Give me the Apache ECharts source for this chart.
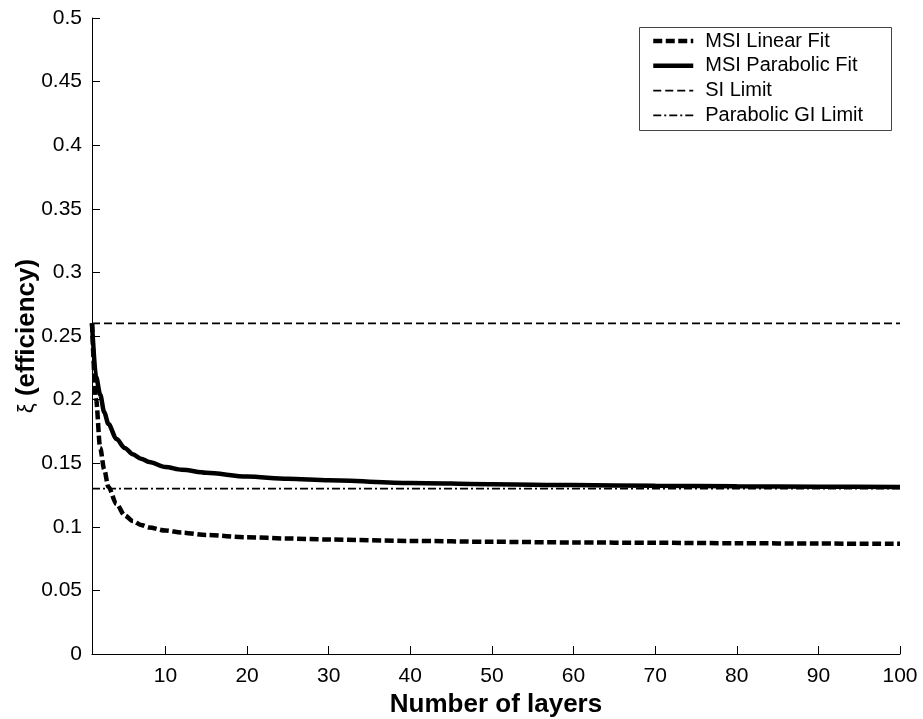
<!DOCTYPE html>
<html>
<head>
<meta charset="utf-8">
<script src="https://cdn.jsdelivr.net/npm/echarts@6/dist/echarts.min.js"></script>
<style>
html,body{margin:0;padding:0;background:#fff;}
#chart{width:923px;height:719px;}
</style>
</head>
<body>
<div id="chart"></div>
<script>
// ---- data ----
var layers = [1, 1.5, 2, 2.5, 3, 4, 5, 6, 7, 8, 10, 12, 15, 20, 25, 30, 40, 50, 60, 70, 80, 90, 100];
var msiLinear = [0.26, 0.200, 0.162, 0.145, 0.1315, 0.118, 0.109, 0.1045, 0.1015, 0.0995, 0.097, 0.0955, 0.0935, 0.0918, 0.0908, 0.090, 0.0889, 0.0882, 0.0877, 0.0874, 0.0871, 0.0868, 0.0866];
var msiParabolic = [0.26, 0.218, 0.204, 0.190, 0.181, 0.169, 0.162, 0.157, 0.1535, 0.151, 0.147, 0.1448, 0.1425, 0.1395, 0.1377, 0.1365, 0.1345, 0.1335, 0.1328, 0.1322, 0.1318, 0.1315, 0.1312];
var siLimit = 0.26;
var giLimit = 0.13;
var xTicks = [10, 20, 30, 40, 50, 60, 70, 80, 90, 100];
var seriesNames = ['MSI Linear Fit', 'MSI Parabolic Fit', 'SI Limit', 'Parabolic GI Limit'];

function pairs(xs, ys) { return xs.map(function (x, i) { return [x, ys[i]]; }); }
var xMin = layers[0], xMax = layers[layers.length - 1];

var FONT = '"Liberation Sans", Arial, Helvetica, sans-serif';
var styles = [
  {color: '#000', width: 4.5, type: [9, 3.5]},
  {color: '#000', width: 4.5, type: 'solid'},
  {color: '#000', width: 1.8, type: [8, 4]},
  {color: '#000', width: 1.8, type: [8, 3, 2, 3]}
];
var chart = echarts.init(document.getElementById('chart'), null, {renderer: 'canvas'});
chart.setOption({
  animation: false,
  backgroundColor: '#fff',
  textStyle: {fontFamily: FONT, color: '#000'},
  grid: {left: 92, right: 23, top: 18, bottom: 65, containLabel: false, outerBoundsMode: 'none'},
  graphic: [{
    type: 'rect', left: 639, top: 27, z: 100,
    shape: {width: 252, height: 103},
    style: {fill: 'transparent', stroke: '#444', lineWidth: 1}
  }],
  legend: {
    orient: 'vertical', left: 651, top: 31, padding: 0,
    itemWidth: 40, itemHeight: 14, itemGap: 4.8,
    data: seriesNames.map(function (n, i) { return {name: n, lineStyle: styles[i]}; }),
    itemStyle: {opacity: 0},
    textStyle: {fontFamily: FONT, fontSize: 20, color: '#000', lineHeight: 20, padding: [0, 0, 0, 7]}
  },
  xAxis: {
    type: 'value', min: xMin, max: xMax,
    name: 'Number of layers', nameLocation: 'middle', nameGap: 38,
    nameTextStyle: {fontFamily: FONT, fontSize: 26, fontWeight: 'bold', color: '#000'},
    axisLine: {show: true, onZero: false, lineStyle: {color: '#000', width: 1}},
    axisTick: {show: true, inside: true, length: 8, lineStyle: {color: '#000'}, customValues: xTicks},
    axisLabel: {fontFamily: FONT, fontSize: 21, color: '#000', margin: 12, customValues: xTicks},
    splitLine: {show: false}
  },
  yAxis: {
    type: 'value', min: 0, max: 0.5, interval: 0.05,
    name: '{g|ξ} (efficiency)', nameLocation: 'middle', nameGap: 52, nameMoveOverlap: false,
    nameTextStyle: {fontFamily: FONT, fontSize: 26, fontWeight: 'bold', color: '#000',
      rich: {g: {fontFamily: FONT, fontSize: 22, fontWeight: 'normal', color: '#000'}}},
    axisLine: {show: true, lineStyle: {color: '#000', width: 1}},
    axisTick: {show: true, inside: true, length: 8, lineStyle: {color: '#000'}},
    axisLabel: {fontFamily: FONT, fontSize: 21, color: '#000', margin: 10,
      formatter: function (v) { return String(Math.round(v * 100) / 100); }},
    splitLine: {show: false}
  },
  series: [
    {
      name: seriesNames[0], type: 'line', data: pairs(layers, msiLinear),
      symbol: 'none', smooth: 0.3, smoothMonotone: 'x',
      lineStyle: styles[0], itemStyle: {color: '#000'}, z: 3
    },
    {
      name: seriesNames[1], type: 'line', data: pairs(layers, msiParabolic),
      symbol: 'none', smooth: 0.3, smoothMonotone: 'x',
      lineStyle: styles[1], itemStyle: {color: '#000'}, z: 4
    },
    {
      name: seriesNames[2], type: 'line', data: [[xMin, siLimit], [xMax, siLimit]],
      symbol: 'none', lineStyle: styles[2], itemStyle: {color: '#000'}, z: 2
    },
    {
      name: seriesNames[3], type: 'line', data: [[xMin, giLimit], [xMax, giLimit]],
      symbol: 'none', lineStyle: styles[3], itemStyle: {color: '#000'}, z: 2
    }
  ]
});
</script>
</body>
</html>
